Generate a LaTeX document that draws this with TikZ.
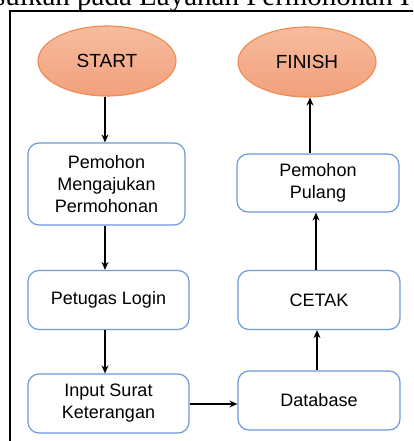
\documentclass[tikz,border=0pt]{standalone}
\usepackage{fontspec}
\setmainfont{Liberation Sans}
\newfontfamily\capfont{Liberation Serif}
\usetikzlibrary{shapes.geometric,arrows.meta}
\definecolor{boxblue}{RGB}{108,155,215}
\definecolor{ovalline}{RGB}{240,138,80}
\definecolor{ovaltop}{RGB}{246,188,158}
\definecolor{ovalbot}{RGB}{242,160,124}
\tikzset{
  oval/.style={ellipse, draw=ovalline, line width=1.1pt, top color=ovaltop, bottom color=ovalbot,
    minimum width=138pt, minimum height=70pt, inner sep=0pt,
    font=\fontsize{19}{22}\selectfont},
  procbox/.style={rectangle, rounded corners=11pt, draw=boxblue, line width=1.2pt, fill=white,
    align=center, inner sep=0pt, font=\fontsize{18}{22}\selectfont},
  flow/.style={line width=1.1pt, -{Stealth[length=8pt,width=7pt]}},
}
\begin{document}
\begin{tikzpicture}[x=1pt,y=-1pt]
\useasboundingbox (0,0) rectangle (413,441);
\clip (0,0) rectangle (413,441);
% clipped caption
\node[anchor=base west, inner sep=0pt, font=\capfont\fontsize{29}{30}\selectfont] (cap) at (-6,6) {sulkan pada Layanan Permohonan I};
% frame
\draw[line width=1.3pt] (420,11) -- (10,11) -- (10,450);
% nodes
\node[oval] (start) at (107,61) {START};
\node[oval] (finish) at (307,62) {FINISH};
\node[procbox, minimum width=157pt, minimum height=82pt] (ajukan) at (106.5,184) {Pemohon\\Mengajukan\\Permohonan};
\node[procbox, minimum width=161pt, minimum height=59pt] (login) at (108.5,300) {Petugas Login};
\node[procbox, minimum width=161pt, minimum height=59pt] (input) at (108.5,403.5) {Input Surat\\Keterangan};
\node[procbox, minimum width=162pt, minimum height=59pt] (db) at (319,400.5) {Database};
\node[procbox, minimum width=162pt, minimum height=59pt] (cetak) at (319,300) {CETAK};
\node[procbox, minimum width=162pt, minimum height=58pt] (pulang) at (318,183) {Pemohon\\Pulang};
% connectors
\draw[flow] (start.south -| 105,0) -- (ajukan.north -| 105,0);
\draw[flow] (ajukan.south -| 105,0) -- (login.north -| 105,0);
\draw[flow] (login.south -| 105,0) -- (input.north -| 105,0);
\draw[flow] (input.east |- 0,404) -- (db.west |- 0,404);
\draw[flow] (db.north -| 317,0) -- (cetak.south -| 317,0);
\draw[flow] (cetak.north -| 316,0) -- (pulang.south -| 316,0);
\draw[flow] (pulang.north -| 310,0) -- (finish.south -| 310,0);
\end{tikzpicture}
\end{document}
